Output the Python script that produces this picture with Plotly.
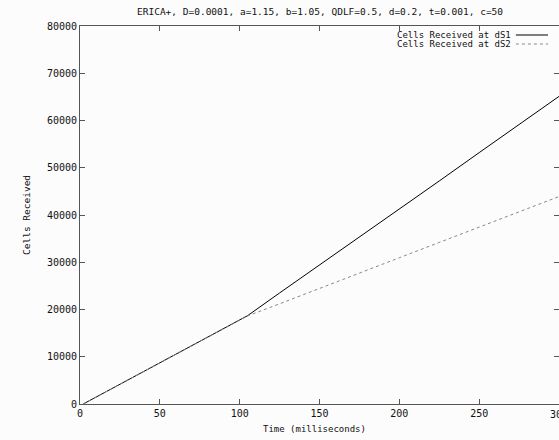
import plotly.graph_objects as go

# Data
time_ms = [2, 25, 50, 75, 100, 105, 125, 150, 175, 200, 225, 250, 275, 300]
cells_ds1 = [0, 4150, 8700, 13200, 17800, 18700, 23500, 29400, 35300, 41250, 47200, 53200, 59150, 65100]
cells_ds2 = [0, 4150, 8700, 13200, 17800, 18650, 21200, 24500, 27700, 30950, 34200, 37450, 40700, 43900]
series_names = ["Cells Received at dS1", "Cells Received at dS2"]
x_ticks = [0, 50, 100, 150, 200, 250, 300]
y_ticks = [0, 10000, 20000, 30000, 40000, 50000, 60000, 70000, 80000]
title_text = "ERICA+, D=0.0001, a=1.15, b=1.05, QDLF=0.5, d=0.2, t=0.001, c=50"

FONT = "DejaVu Sans Mono"
AXIS_COLOR = "#555555"
TEXT_COLOR = "#111111"

fig = go.Figure()
fig.add_trace(go.Scatter(x=time_ms, y=cells_ds1, mode="lines", name=series_names[0],
                         line=dict(color="#000000", width=1), showlegend=False))
fig.add_trace(go.Scatter(x=time_ms, y=cells_ds2, mode="lines", name=series_names[1],
                         line=dict(color="#888888", width=1, dash="dot"), showlegend=False))

axis_common = dict(showline=True, linecolor=AXIS_COLOR, linewidth=1, mirror="ticks",
                   ticks="inside", ticklen=5, tickcolor=AXIS_COLOR, tickwidth=1,
                   showgrid=False, zeroline=False,
                   tickfont=dict(family=FONT, size=10, color=TEXT_COLOR))

fig.update_xaxes(range=[0, 300], tickvals=x_ticks, ticktext=[str(v) for v in x_ticks], **axis_common)
fig.update_yaxes(range=[0, 80000], tickvals=y_ticks, ticktext=[str(v) for v in y_ticks], **axis_common)

annotations = [
    dict(text=title_text, xref="paper", yref="paper", x=0.5, y=1, yshift=15,
         showarrow=False, xanchor="center", yanchor="middle",
         font=dict(family=FONT, size=9.5, color=TEXT_COLOR)),
    dict(text="Time (milliseconds)", xref="paper", yref="paper", x=0.49, y=0, yshift=-25,
         showarrow=False, xanchor="center", yanchor="middle",
         font=dict(family=FONT, size=9, color=TEXT_COLOR)),
    dict(text="Cells Received", xref="paper", yref="paper", x=0, xshift=-54, y=0.5,
         showarrow=False, xanchor="center", yanchor="middle", textangle=-90,
         font=dict(family=FONT, size=9.5, color=TEXT_COLOR)),
    # last x tick label, which sits on the window edge and is partly cut in the reference
    dict(text=str(x_ticks[-1]), xref="x", yref="paper", x=x_ticks[-1], y=0, yshift=-10,
         showarrow=False, xanchor="center", yanchor="middle",
         font=dict(family=FONT, size=10, color=TEXT_COLOR)),
]
shapes = []
PLOT_H = 378
legend_rows = [(series_names[0], "#000000", "solid", 0), (series_names[1], "#888888", "dot", 1)]
for name, col, dash, i in legend_rows:
    off = 9 + 9 * i
    annotations.append(dict(text=name, xref="paper", yref="paper", x=0.905, y=1, yshift=-off,
                            showarrow=False, xanchor="right", yanchor="middle",
                            font=dict(family=FONT, size=9, color=TEXT_COLOR)))
    ypos = 1 - off / PLOT_H
    shapes.append(dict(type="line", xref="paper", yref="paper", x0=0.91, x1=0.977,
                       y0=ypos, y1=ypos, line=dict(color=col, width=1, dash=dash)))

fig.update_layout(width=559, height=440,
                  margin=dict(l=80, r=0, t=26, b=36),
                  paper_bgcolor="#fcfcfc", plot_bgcolor="#fcfcfc",
                  annotations=annotations, shapes=shapes,
                  font=dict(family=FONT, size=9))

# remove the browser's default 8px page margin so the figure fills the window
fig.write_html("out.html", config={"displayModeBar": False},
               post_script="document.body.style.margin='0';")
